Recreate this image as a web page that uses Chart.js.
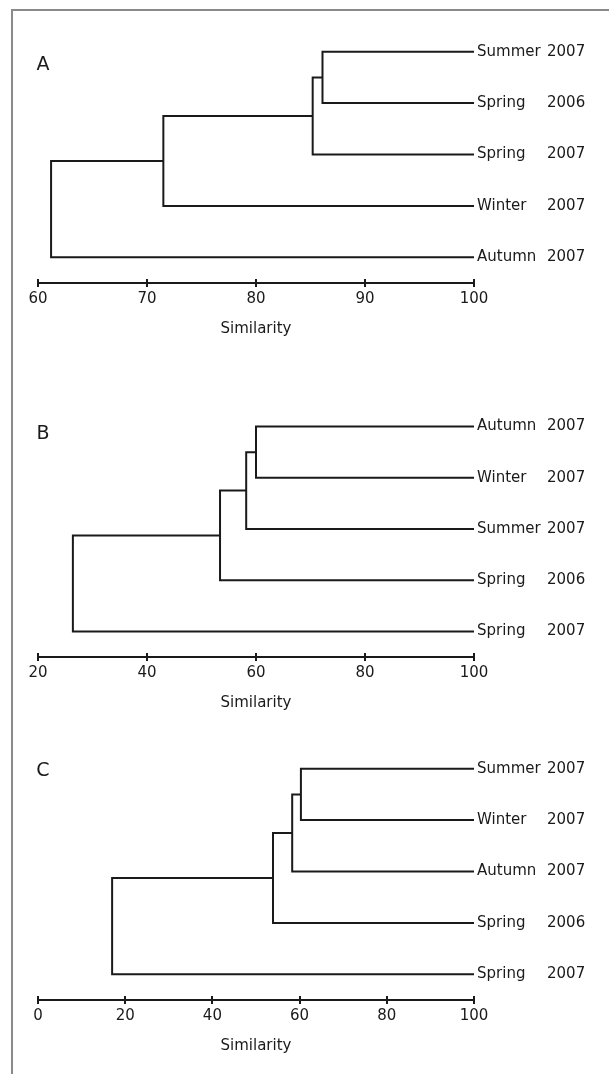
<!DOCTYPE html>
<html>
<head>
<meta charset="utf-8">
<script src="https://cdn.jsdelivr.net/npm/chart.js@4"></script>
<style>
  body { margin: 0; background: #fff; width: 609px; height: 1074px; overflow: hidden; position: relative; }
  #frame { position: absolute; left: 11px; top: 9px; width: 598px; height: 1065px;
           border-left: 2px solid #8a8a8a; border-top: 2px solid #8a8a8a; box-sizing: border-box; }
  canvas { position: absolute; left: 0; }
</style>
</head>
<body>
<div id="frame"></div>
<canvas id="chartA" width="609" height="342" style="top:0px"></canvas>
<canvas id="chartB" width="609" height="374" style="top:342px"></canvas>
<canvas id="chartC" width="609" height="343" style="top:716px"></canvas>
<script>
// leaves top to bottom, merge heights in joining order
const leavesA = ['Summer 2007', 'Spring 2006', 'Spring 2007', 'Winter 2007', 'Autumn 2007'];
const mergesA = [86.1, 85.2, 71.5, 61.2];
const ticksA = [60, 70, 80, 90, 100];

const leavesB = ['Autumn 2007', 'Winter 2007', 'Summer 2007', 'Spring 2006', 'Spring 2007'];
const mergesB = [60.0, 58.2, 53.4, 26.4];
const ticksB = [20, 40, 60, 80, 100];

const leavesC = ['Summer 2007', 'Winter 2007', 'Autumn 2007', 'Spring 2006', 'Spring 2007'];
const mergesC = [60.3, 58.3, 53.9, 17.0];
const ticksC = [0, 20, 40, 60, 80, 100];

const FONT = "'DejaVu Sans', Verdana, sans-serif";
const INK = '#1a1a1a';

// each merge joins the cluster so far with the next leaf
function branches(merges) {
    const sets = [];
    let px = 100, py = 0;
    merges.forEach((m, i) => {
        const k = i + 1;
        sets.push({
            data: [{x: px, y: py}, {x: m, y: py}, {x: m, y: k}, {x: 100, y: k}],
            showLine: true,
            borderColor: INK,
            borderWidth: 2,
            pointRadius: 0,
            tension: 0,
        });
        px = m;
        py = (py + k) / 2;
    });
    return sets;
}

const leafLabels = {
    id: 'leafLabels',
    afterDraw(chart, args, opts) {
        const ctx = chart.ctx;
        const xs = chart.scales.x, ys = chart.scales.y;
        ctx.save();
        ctx.fillStyle = INK;
        ctx.font = '15px ' + FONT;
        ctx.textBaseline = 'middle';
        opts.leaves.forEach((name, i) => {
            const parts = name.split(' ');
            const y = ys.getPixelForValue(i);
            ctx.fillText(parts[0], xs.right + 3, y);
            ctx.fillText(parts[1], xs.right + 73, y);
        });
        // upper half of the tick marks
        ctx.strokeStyle = INK;
        ctx.lineWidth = 2;
        xs.ticks.forEach(t => {
            const x = Math.round(xs.getPixelForValue(t.value));
            ctx.beginPath();
            ctx.moveTo(x, xs.top);
            ctx.lineTo(x, xs.top - 4);
            ctx.stroke();
        });
        ctx.font = '19px ' + FONT;
        ctx.textAlign = 'center';
        ctx.fillText(opts.letter, 43, opts.letterY);
        ctx.restore();
    }
};

function makeChart(id, leaves, merges, ticks, letter, letterY, padTop) {
    new Chart(document.getElementById(id), {
        type: 'scatter',
        data: { datasets: branches(merges) },
        plugins: [leafLabels],
        options: {
            responsive: false,
            animation: false,
            devicePixelRatio: 1,
            layout: { padding: { top: padTop, left: 38, right: 135, bottom: 0 } },
            scales: {
                x: {
                    type: 'linear',
                    min: ticks[0],
                    max: ticks[ticks.length - 1],
                    afterBuildTicks: s => { s.ticks = ticks.map(v => ({value: v})); },
                    border: { display: true, color: INK, width: 2 },
                    grid: { drawOnChartArea: false, drawTicks: true, tickLength: 4, color: INK, lineWidth: 2 },
                    ticks: { color: INK, padding: 3, font: { family: FONT, size: 15 } },
                    title: {
                        display: true,
                        text: 'Similarity',
                        color: INK,
                        font: { family: FONT, size: 15 },
                        padding: { top: 9, bottom: 4 }
                    }
                },
                y: {
                    type: 'linear',
                    display: false,
                    reverse: true,
                    min: -0.5,
                    max: 4.5
                }
            },
            plugins: {
                legend: { display: false },
                tooltip: { enabled: false },
                leafLabels: { leaves: leaves, letter: letter, letterY: letterY }
            }
        }
    });
}

makeChart('chartA', leavesA, mergesA, ticksA, 'A', 65, 26);
makeChart('chartB', leavesB, mergesB, ticksB, 'B', 92, 59);
makeChart('chartC', leavesC, mergesC, ticksC, 'C', 55, 27);
</script>
</body>
</html>
